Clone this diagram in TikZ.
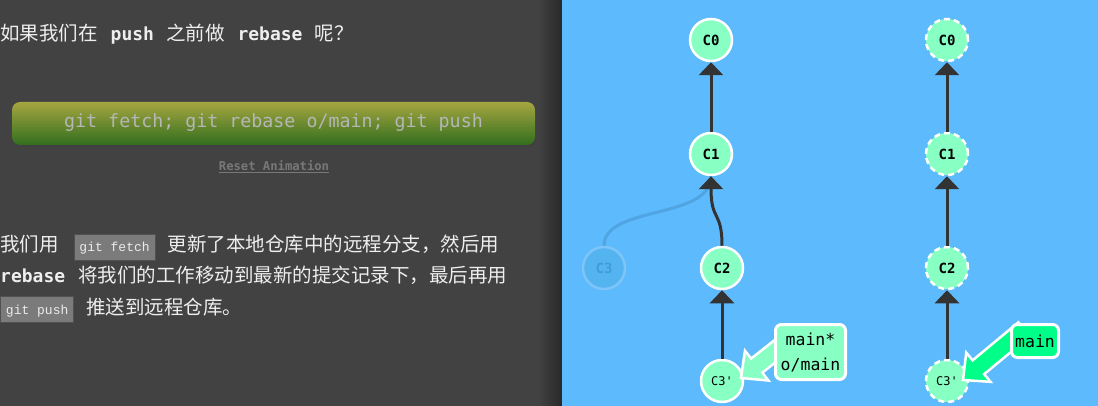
\documentclass[tikz,border=0pt]{standalone}
\usepackage{fontspec}
\newfontfamily\cjk{Noto Sans CJK SC}
\newfontfamily\mono{DejaVu Sans Mono}
\newfontfamily\codefont{Liberation Mono}
\usetikzlibrary{arrows.meta,calc}
\definecolor{leftbg}{RGB}{66,66,66}
\definecolor{leftdark}{RGB}{40,40,40}
\definecolor{panelblue}{RGB}{93,186,252}
\definecolor{mint}{RGB}{136,255,195}
\definecolor{brightgreen}{RGB}{0,255,136}
\definecolor{edgecol}{RGB}{51,51,51}
\definecolor{txt}{RGB}{238,238,238}
\definecolor{codebg}{RGB}{123,123,123}
\definecolor{codeborder}{RGB}{80,80,80}
\definecolor{codetxt}{RGB}{235,235,235}
\definecolor{btntop}{RGB}{165,166,64}
\definecolor{btnbot}{RGB}{50,110,30}
\definecolor{btntext}{RGB}{182,182,182}
\definecolor{resetcol}{RGB}{120,120,120}
\definecolor{ghostfill}{RGB}{84,180,240}
\definecolor{ghostborder}{RGB}{125,196,248}
\definecolor{ghosttext}{RGB}{62,156,220}
\definecolor{ghostedge}{RGB}{80,164,226}
\pgfdeclarelayer{back}
\pgfdeclarelayer{top}
\pgfsetlayers{back,main,top}
\newcommand\cbox[1]{{\setlength\fboxsep{5pt}\setlength\fboxrule{0.8pt}\fcolorbox{codeborder}{codebg}{\rule[-2.5pt]{0pt}{15pt}\color{codetxt}\fontsize{13}{13}\selectfont\codefont #1}}}
\newcommand\bmono[1]{{\fontsize{18}{18}\selectfont\mono\bfseries #1}}
% block arrow: #1 tip, #2 label node, #3 fill colour
\newcommand\blockarrow[3]{%
  \coordinate (ba-s) at ($(#1)!1.3!(#2.west)$);
  \coordinate (ba-h) at ($(#1)!20pt!(ba-s)$);
  \filldraw[fill=#3, draw=white, line width=2.5pt, line join=miter]
    ($(ba-s)!9pt!90:(#1)$) -- ($(ba-h)!9pt!90:(#1)$) -- ($(ba-h)!19pt!90:(#1)$)
    -- (#1) -- ($(ba-h)!19pt!-90:(#1)$) -- ($(ba-h)!9pt!-90:(#1)$)
    -- ($(ba-s)!9pt!-90:(#1)$) -- cycle;}
\begin{document}
\begin{tikzpicture}[x=1pt,y=-1pt,
  txtnode/.style={inner sep=0pt, anchor=base west, text=txt, font=\fontsize{19.5}{19.5}\selectfont\cjk},
  commit/.style={circle, minimum size=42pt, inner sep=0pt, fill=mint, draw=white, line width=2.5pt,
     font=\fontsize{14}{14}\selectfont\mono\bfseries},
  smallcommit/.style={commit, font=\fontsize{12}{12}\selectfont\mono},
  dashedcommit/.style={dash pattern=on 6pt off 4pt},
  ghost/.style={circle, minimum size=42pt, inner sep=0pt, fill=ghostfill, draw=ghostborder, line width=2.5pt,
     text=ghosttext, font=\fontsize{14}{14}\selectfont\mono\bfseries},
  edge/.style={draw=edgecol, line width=3pt, -{Triangle[width=24pt,length=13pt]}},
  ghostline/.style={draw=ghostedge, line width=3pt},
  lbl/.style={rectangle, rounded corners=6pt, draw=white, line width=3pt, inner sep=0pt, align=center,
     font=\fontsize{16.5}{25}\selectfont\mono, text=black}
]
\useasboundingbox (0,0) rectangle (1098,406);
\begin{pgfonlayer}{back}
\fill[leftbg] (0,0) rectangle (562,406);
\shade[left color=leftbg, right color=leftdark] (538,0) rectangle (562,406);
\fill[panelblue] (562,0) rectangle (1098,406);
\end{pgfonlayer}

% ---- left text panel ----
\node[txtnode] (title) at (0,41) {如果我们在\hspace{13pt}\bmono{push}\hspace{12pt}之前做\hspace{13pt}\bmono{rebase}\hspace{12pt}呢？};

\fill[black!75, rounded corners=8pt] (13,104) rectangle (536,147);
\node[rectangle, rounded corners=8pt, top color=btntop, bottom color=btnbot, minimum width=523pt,
      minimum height=43pt, inner sep=0pt] (btn) at (273.5,123.5) {};
\node[text=btntext, inner sep=0pt, font=\fontsize{18.3}{18.3}\selectfont\mono] (btntxt) at (273.5,123) {git fetch; git rebase o/main; git push};
\node[text=resetcol, inner sep=0pt, font=\fontsize{12.2}{12.2}\selectfont\mono\bfseries] (reset) at (274,167) {\underline{Reset Animation}};

\node[txtnode] (p1) at (0,252) {我们用\hspace{15pt}\cbox{git fetch}\hspace{12pt}更新了本地仓库中的远程分支，然后用};
\node[txtnode] (p2) at (0,283) {\bmono{rebase}\hspace{13pt}将我们的工作移动到最新的提交记录下，最后再用};
\node[txtnode] (p3) at (0,314) {\cbox{git push}\hspace{12pt}推送到远程仓库。};

% ---- left graph ----
\node[commit] (l0) at (711,40) {C0};
\node[commit] (l1) at (711,154) {C1};
\node[commit] (l2) at (722,268) {C2};
\node[smallcommit] (l3) at (722,381) {C3\textquotesingle};
\node[ghost] (g3) at (604,268) {C3};

\draw[ghostline] (g3.north) .. controls (604,205) and (711,220) .. (l1.south);
\draw[edge] (l1.north) -- (l0.south);
\draw[edge] (l2.north) .. controls (722,210) and (711,222) .. (l1.south);
\draw[edge] (l3.north) -- (l2.south);

% ---- right graph ----
\node[commit, dashedcommit] (r0) at (947,40) {C0};
\node[commit, dashedcommit] (r1) at (947,154) {C1};
\node[commit, dashedcommit] (r2) at (947,268) {C2};
\node[smallcommit, dashedcommit] (r3) at (947,381) {C3\textquotesingle};

\draw[edge] (r1.north) -- (r0.south);
\draw[edge] (r2.north) -- (r1.south);
\draw[edge] (r3.north) -- (r2.south);

% ---- branch labels ----
\begin{pgfonlayer}{top}
\node[lbl, fill=mint, minimum width=70pt, minimum height=55pt] (labL) at (810.5,352) {main*\\o/main};
\node[lbl, fill=brightgreen, minimum width=47pt, minimum height=33pt] (labR) at (1035,341) {main};
\end{pgfonlayer}
\coordinate (tipL) at ($(l3)+(19,-3)$);
\coordinate (tipR) at ($(r3)+(16,-1)$);
\blockarrow{tipL}{labL}{mint}
\blockarrow{tipR}{labR}{brightgreen}
\end{tikzpicture}
\end{document}
